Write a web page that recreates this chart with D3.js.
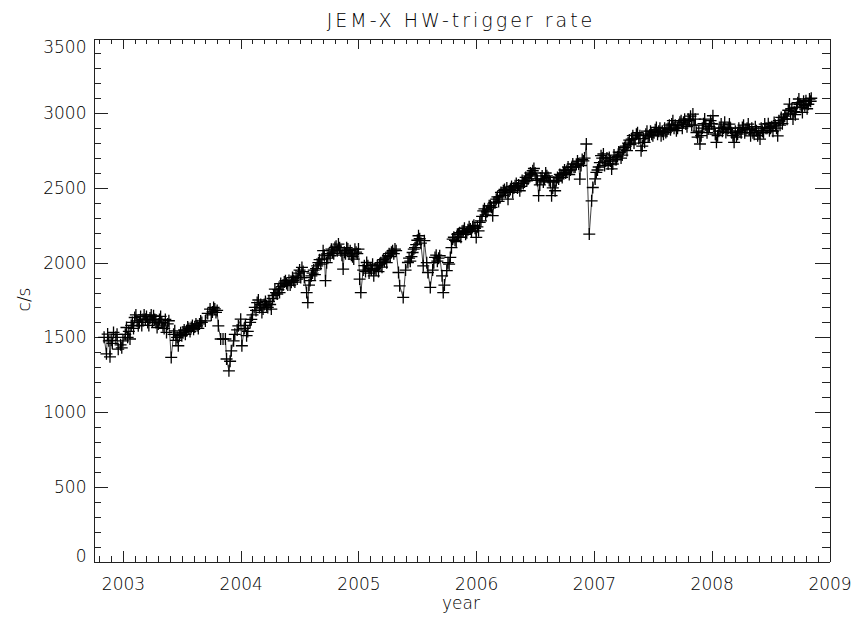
<!DOCTYPE html>
<html>
<head>
<meta charset="utf-8">
<script src="https://cdn.jsdelivr.net/npm/d3@7"></script>
<style>
  body { margin: 0; background: #fff; }
  text { font-family: "DejaVu Sans", sans-serif; font-weight: 200; fill: #000; }
  .axis path, .axis line { stroke: #222; shape-rendering: crispEdges; }
  .axis text { font-size: 17px; font-family: "DejaVu Sans", sans-serif; font-weight: 200; fill: #000; }
</style>
</head>
<body>
<div id="container"></div>
<script>
    // decimal year of each point and the JEM-X hardware trigger rate (c/s)
    const epoch = [
      2002.84, 2002.86, 2002.87, 2002.88, 2002.89, 2002.90, 2002.92, 2002.94, 2002.96, 2002.98,
      2003.00, 2003.02, 2003.03, 2003.05, 2003.06, 2003.08, 2003.10, 2003.12, 2003.13, 2003.15,
      2003.17, 2003.19, 2003.21, 2003.23, 2003.25, 2003.26, 2003.28, 2003.29, 2003.31, 2003.33,
      2003.34, 2003.36, 2003.37, 2003.39, 2003.41, 2003.43, 2003.44, 2003.46, 2003.47, 2003.49,
      2003.50, 2003.52, 2003.54, 2003.56, 2003.58, 2003.60, 2003.63, 2003.65, 2003.67, 2003.70,
      2003.72, 2003.74, 2003.76, 2003.77, 2003.79, 2003.80, 2003.81, 2003.83, 2003.85, 2003.87,
      2003.88, 2003.90, 2003.91, 2003.92, 2003.94, 2003.95, 2003.97, 2003.98, 2004.00, 2004.01,
      2004.03, 2004.05, 2004.08, 2004.10, 2004.14, 2004.16, 2004.18, 2004.20, 2004.22, 2004.24,
      2004.26, 2004.27, 2004.29, 2004.31, 2004.33, 2004.35, 2004.38, 2004.40, 2004.43, 2004.45,
      2004.48, 2004.49, 2004.52, 2004.54, 2004.56, 2004.57, 2004.58, 2004.60, 2004.62, 2004.65,
      2004.66, 2004.69, 2004.70, 2004.72, 2004.73, 2004.76, 2004.78, 2004.80, 2004.83, 2004.85,
      2004.87, 2004.89, 2004.91, 2004.94, 2004.96, 2004.98, 2005.00, 2005.01, 2005.02, 2005.04,
      2005.07, 2005.10, 2005.13, 2005.15, 2005.18, 2005.22, 2005.25, 2005.28, 2005.31, 2005.34,
      2005.35, 2005.38, 2005.40, 2005.42, 2005.45, 2005.46, 2005.49, 2005.51, 2005.53, 2005.55,
      2005.56, 2005.58, 2005.59, 2005.61, 2005.63, 2005.65, 2005.67, 2005.69, 2005.71, 2005.72,
      2005.73, 2005.75, 2005.78, 2005.80, 2005.83, 2005.85, 2005.87, 2005.89, 2005.92, 2005.95,
      2005.97, 2006.00, 2006.02, 2006.03, 2006.04, 2006.06, 2006.08, 2006.10, 2006.12, 2006.14,
      2006.16, 2006.17, 2006.20, 2006.23, 2006.25, 2006.27, 2006.29, 2006.33, 2006.35, 2006.37,
      2006.40, 2006.43, 2006.45, 2006.48, 2006.51, 2006.53, 2006.54, 2006.55, 2006.57, 2006.60,
      2006.62, 2006.64, 2006.67, 2006.68, 2006.70, 2006.72, 2006.74, 2006.77, 2006.79, 2006.81,
      2006.83, 2006.85, 2006.88, 2006.89, 2006.91, 2006.92, 2006.935, 2006.96, 2006.98, 2006.99,
      2007.01, 2007.02, 2007.04, 2007.05, 2007.06, 2007.08, 2007.10, 2007.12, 2007.13, 2007.15,
      2007.18, 2007.20, 2007.22, 2007.24, 2007.26, 2007.29, 2007.32, 2007.34, 2007.36, 2007.38,
      2007.40, 2007.41, 2007.43, 2007.46, 2007.49, 2007.51, 2007.53, 2007.55, 2007.57, 2007.59,
      2007.61, 2007.63, 2007.66, 2007.68, 2007.70, 2007.72, 2007.74, 2007.76, 2007.78, 2007.80,
      2007.82, 2007.84, 2007.85, 2007.87, 2007.88, 2007.90, 2007.92, 2007.94, 2007.95, 2007.97,
      2007.99, 2008.01, 2008.02, 2008.04, 2008.06, 2008.08, 2008.10, 2008.12, 2008.14, 2008.15,
      2008.17, 2008.19, 2008.21, 2008.22, 2008.24, 2008.26, 2008.29, 2008.31, 2008.32, 2008.33,
      2008.35, 2008.38, 2008.39, 2008.41, 2008.43, 2008.45, 2008.47, 2008.49, 2008.51, 2008.53,
      2008.55, 2008.56, 2008.58, 2008.59, 2008.61, 2008.63, 2008.65, 2008.66, 2008.67, 2008.69,
      2008.70, 2008.72, 2008.73, 2008.74, 2008.76, 2008.77, 2008.79, 2008.80, 2008.82, 2008.83,
      2008.84
    ];

    const rate = [
      1500, 1390, 1522, 1477, 1370, 1480, 1533, 1500, 1421, 1450,
      1477, 1520, 1566, 1540, 1489, 1600, 1633, 1610, 1577, 1640,
      1620, 1622, 1600, 1630, 1610, 1644, 1600, 1566, 1620, 1600,
      1577, 1620, 1533, 1611, 1366, 1520, 1544, 1500, 1444, 1530,
      1511, 1550, 1544, 1560, 1566, 1555, 1577, 1590, 1600, 1610,
      1660, 1689, 1670, 1700, 1667, 1680, 1577, 1489, 1489, 1489,
      1355, 1276, 1340, 1410, 1477, 1520, 1550, 1577, 1622, 1444,
      1560, 1511, 1600, 1650, 1733, 1700, 1667, 1720, 1711, 1740,
      1689, 1760, 1823, 1790, 1800, 1840, 1879, 1850, 1868, 1880,
      1890, 1930, 1968, 1900, 1800, 1733, 1850, 1912, 1950, 1979,
      2000, 2024, 2080, 1879, 2000, 2046, 2070, 2102, 2124, 2080,
      1957, 2060, 2091, 2050, 2024, 2070, 2091, 1890, 1800, 1950,
      2001, 1960, 1912, 1950, 1990, 2010, 2046, 2070, 2091, 1934,
      1845, 1767, 1950, 2001, 2040, 2068, 2120, 2180, 2130, 1979,
      2147, 2000, 1934, 1834, 1950, 2035, 2010, 2046, 1912, 1800,
      1850, 1946, 2035, 2158, 2140, 2191, 2170, 2213, 2200, 2225,
      2240, 2169, 2213, 2269, 2280, 2347, 2320, 2358, 2380, 2314,
      2400, 2425, 2440, 2481, 2470, 2425, 2490, 2515, 2500, 2481,
      2530, 2548, 2580, 2615, 2560, 2448, 2520, 2559, 2540, 2581,
      2550, 2448, 2481, 2548, 2560, 2581, 2600, 2615, 2590, 2637,
      2640, 2659, 2559, 2650, 2681, 2700, 2794, 2191, 2414, 2503,
      2560, 2604, 2640, 2670, 2716, 2727, 2680, 2660, 2704, 2627,
      2690, 2710, 2737, 2720, 2771, 2800, 2827, 2800, 2860, 2830,
      2749, 2780, 2805, 2840, 2860, 2870, 2905, 2880, 2849, 2860,
      2871, 2900, 2927, 2900, 2883, 2920, 2950, 2940, 2927, 2960,
      2980, 2994, 2920, 2871, 2840, 2794, 2900, 2961, 2920, 2894,
      2950, 2983, 2900, 2805, 2880, 2927, 2900, 2871, 2900, 2927,
      2870, 2805, 2840, 2860, 2880, 2905, 2890, 2927, 2890, 2849,
      2870, 2883, 2850, 2827, 2880, 2927, 2900, 2883, 2910, 2938,
      2900, 2849, 2920, 2972, 2960, 2994, 3020, 3061, 3000, 2961,
      3010, 3039, 3070, 3095, 3040, 3005, 3050, 3084, 3060, 3095,
      3080
    ];

    // the in-between pointings that fill the band
    const epochFill = [
      2002.91, 2002.95, 2002.99, 2003.04, 2003.07, 2003.09, 2003.11, 2003.14, 2003.16, 2003.18,
      2003.20, 2003.22, 2003.24, 2003.27, 2003.30, 2003.32, 2003.35, 2003.38, 2003.45, 2003.48,
      2003.51, 2003.53, 2003.55, 2003.57, 2003.59, 2003.61, 2003.62, 2003.64, 2003.66, 2003.75,
      2003.78,
      2004.04, 2004.06, 2004.09, 2004.12, 2004.13, 2004.15, 2004.17, 2004.19, 2004.21, 2004.23,
      2004.25, 2004.28, 2004.30, 2004.32, 2004.34, 2004.36, 2004.37, 2004.39, 2004.41, 2004.42,
      2004.44, 2004.46, 2004.47, 2004.50, 2004.51, 2004.53, 2004.59, 2004.61, 2004.63, 2004.64,
      2004.67, 2004.68, 2004.71, 2004.74, 2004.75, 2004.77, 2004.79, 2004.81, 2004.82, 2004.84,
      2004.86, 2004.88, 2004.90, 2004.92, 2004.93, 2004.95, 2004.97, 2004.99,
      2005.05, 2005.06, 2005.08, 2005.09, 2005.11, 2005.12, 2005.14, 2005.16, 2005.17, 2005.19,
      2005.20, 2005.21, 2005.23, 2005.24, 2005.26, 2005.27, 2005.29, 2005.30, 2005.32, 2005.43,
      2005.44, 2005.47, 2005.48, 2005.50, 2005.52, 2005.64, 2005.66, 2005.68, 2005.76, 2005.77,
      2005.79, 2005.81, 2005.82, 2005.84, 2005.86, 2005.88, 2005.90, 2005.91, 2005.93, 2005.94,
      2005.96, 2005.98, 2005.99,
      2006.01, 2006.05, 2006.07, 2006.09, 2006.11, 2006.13, 2006.15, 2006.18, 2006.19, 2006.21,
      2006.22, 2006.24, 2006.26, 2006.28, 2006.30, 2006.31, 2006.32, 2006.34, 2006.36, 2006.38,
      2006.39, 2006.41, 2006.42, 2006.44, 2006.46, 2006.47, 2006.49, 2006.50, 2006.52, 2006.56,
      2006.58, 2006.59, 2006.61, 2006.63, 2006.65, 2006.66, 2006.69, 2006.71, 2006.73, 2006.75,
      2006.76, 2006.78, 2006.80, 2006.82, 2006.84, 2006.86, 2006.87, 2006.90,
      2007.03, 2007.07, 2007.09, 2007.11, 2007.14, 2007.16, 2007.17, 2007.19, 2007.21, 2007.23,
      2007.25, 2007.27, 2007.28, 2007.30, 2007.31, 2007.33, 2007.35, 2007.37, 2007.39, 2007.42,
      2007.44, 2007.45, 2007.47, 2007.48, 2007.50, 2007.52, 2007.54, 2007.56, 2007.58, 2007.60,
      2007.62, 2007.64, 2007.65, 2007.67, 2007.69, 2007.71, 2007.73, 2007.75, 2007.77, 2007.79,
      2007.81, 2007.83, 2007.86, 2007.89, 2007.91, 2007.93, 2007.96, 2007.98,
      2008.00, 2008.03, 2008.05, 2008.07, 2008.09, 2008.11, 2008.13, 2008.16, 2008.18, 2008.20,
      2008.23, 2008.25, 2008.27, 2008.28, 2008.30, 2008.34, 2008.36, 2008.37, 2008.40, 2008.42,
      2008.44, 2008.46, 2008.48, 2008.50, 2008.52, 2008.54, 2008.57, 2008.60, 2008.62, 2008.64,
      2008.68, 2008.71, 2008.75, 2008.78, 2008.81, 2008.845
    ];

    const rateFill = [
      1460, 1520, 1430, 1500, 1580, 1560, 1650, 1600, 1580, 1650,
      1640, 1580, 1650, 1620, 1590, 1640, 1560, 1590, 1480, 1510,
      1530, 1520, 1570, 1540, 1580, 1570, 1590, 1560, 1610, 1650,
      1690,
      1580, 1540, 1620, 1700, 1680, 1750, 1720, 1690, 1740, 1700,
      1720, 1780, 1800, 1820, 1860, 1850, 1870, 1860, 1880, 1850,
      1900, 1870, 1910, 1950, 1900, 1940, 1880, 1930, 1920, 1960,
      2020, 1990, 2050, 2030, 2060, 2090, 2060, 2110, 2080, 2100,
      2050, 2070, 2100, 2060, 2080, 2040, 2090, 2060,
      1980, 1940, 1980, 1930, 1950, 1990, 1960, 1980, 1940, 2000,
      1970, 2020, 2030, 2000, 2060, 2040, 2080, 2060, 2080, 2030,
      2010, 2090, 2100, 2150, 2160, 2000, 2050, 2030, 2000, 1990,
      2100, 2170, 2150, 2190, 2200, 2210, 2230, 2190, 2220, 2240,
      2210, 2250, 2230,
      2240, 2310, 2360, 2340, 2380, 2370, 2400, 2440, 2410, 2470,
      2450, 2490, 2500, 2480, 2510, 2470, 2500, 2530, 2520, 2510,
      2550, 2540, 2570, 2560, 2600, 2590, 2630, 2600, 2550, 2580,
      2560, 2600, 2570, 2540, 2500, 2540, 2570, 2590, 2570, 2620,
      2600, 2640, 2620, 2660, 2640, 2680, 2660, 2690,
      2620, 2700, 2650, 2700, 2680, 2660, 2720, 2690, 2740, 2700,
      2760, 2780, 2750, 2820, 2790, 2850, 2830, 2870, 2850, 2830,
      2860, 2880, 2850, 2880, 2850, 2890, 2860, 2900, 2880, 2900,
      2880, 2920, 2890, 2950, 2920, 2900, 2940, 2900, 2960, 2910,
      2950, 2920, 2960, 2880, 2850, 2930, 2870, 2910,
      2930, 2860, 2850, 2900, 2880, 2940, 2890, 2900, 2850, 2880,
      2900, 2870, 2920, 2870, 2900, 2900, 2860, 2910, 2870, 2900,
      2870, 2900, 2930, 2900, 2880, 2920, 2950, 2930, 2980, 2960,
      3030, 2990, 3060, 3080, 3030, 3100
    ];

    const yearTicks = [2003, 2004, 2005, 2006, 2007, 2008, 2009];
    const rateTicks = [0, 500, 1000, 1500, 2000, 2500, 3000, 3500];

    const data = epoch.map((t, i) => ({ t: t, v: rate[i] }))
      .concat(epochFill.map((t, i) => ({ t: t, v: rateFill[i] })))
      .sort((a, b) => a.t - b.t);

    const W = 854, H = 617;
    const margin = { top: 38, right: 25, bottom: 56, left: 93 };
    const width = W - margin.left - margin.right;
    const height = H - margin.top - margin.bottom;

    const svg = d3.select('#container').append('svg')
      .attr('width', W)
      .attr('height', H);

    const chart = svg.append('g')
      .attr('transform', `translate(${margin.left + 0.5}, ${margin.top + 0.5})`);

    const xScale = d3.scaleLinear()
      .domain([2002.75, 2009])
      .range([0, width]);

    const yScale = d3.scaleLinear()
      .domain([0, 3500])
      .range([height, 0]);

    // IDL style: ticks point inward, major 2% of the plot size, minors half
    const xMajor = 0.02 * height, yMajor = 0.02 * width;
    const xMinorVals = d3.range(28, 91).map(d => d / 10 + 2000).filter(d => !yearTicks.includes(Math.round(d * 10) / 10));
    const yMinorVals = d3.range(0, 3501, 100).filter(d => d % 500 !== 0);

    // bottom
    chart.append('g')
      .attr('class', 'axis')
      .attr('transform', `translate(0,${height})`)
      .call(d3.axisBottom(xScale).tickValues(yearTicks).tickSize(-xMajor).tickSizeOuter(0)
        .tickPadding(16).tickFormat(d3.format('d')));
    chart.append('g')
      .attr('class', 'axis')
      .attr('transform', `translate(0,${height})`)
      .call(d3.axisBottom(xScale).tickValues(xMinorVals).tickSize(-xMajor / 2).tickSizeOuter(0).tickFormat(''));

    // top
    chart.append('g')
      .attr('class', 'axis')
      .call(d3.axisTop(xScale).tickValues(yearTicks).tickSize(-xMajor).tickSizeOuter(0).tickFormat(''));
    chart.append('g')
      .attr('class', 'axis')
      .call(d3.axisTop(xScale).tickValues(xMinorVals).tickSize(-xMajor / 2).tickSizeOuter(0).tickFormat(''));

    // left
    const yAxisG = chart.append('g')
      .attr('class', 'axis')
      .call(d3.axisLeft(yScale).tickValues(rateTicks).tickSize(-yMajor).tickSizeOuter(0)
        .tickPadding(7).tickFormat(d3.format('d')));
    chart.append('g')
      .attr('class', 'axis')
      .call(d3.axisLeft(yScale).tickValues(yMinorVals).tickSize(-yMajor / 2).tickSizeOuter(0).tickFormat(''));

    // end labels are kept inside the frame
    yAxisG.selectAll('.tick text')
      .attr('dy', d => d === 3500 ? '0.8em' : d === 0 ? '0' : '0.32em');

    // right
    chart.append('g')
      .attr('class', 'axis')
      .attr('transform', `translate(${width},0)`)
      .call(d3.axisRight(yScale).tickValues(rateTicks).tickSize(-yMajor).tickSizeOuter(0).tickFormat(''));
    chart.append('g')
      .attr('class', 'axis')
      .attr('transform', `translate(${width},0)`)
      .call(d3.axisRight(yScale).tickValues(yMinorVals).tickSize(-yMajor / 2).tickSizeOuter(0).tickFormat(''));

    // connecting line
    const line = d3.line()
      .x(d => xScale(d.t))
      .y(d => yScale(d.v));

    chart.append('path')
      .datum(data)
      .attr('fill', 'none')
      .attr('stroke', '#444')
      .attr('stroke-width', 1)
      .attr('d', line);

    // plus symbols
    const s = 6;
    chart.append('g')
      .selectAll('path')
      .data(data)
      .enter()
      .append('path')
      .attr('transform', d => `translate(${xScale(d.t)},${yScale(d.v)})`)
      .attr('d', `M${-s},0H${s}M0,${-s}V${s}`)
      .attr('stroke', '#000')
      .attr('stroke-width', 1.3)
      .attr('fill', 'none');

    svg.append('text')
      .attr('x', margin.left + width / 2)
      .attr('y', 27)
      .attr('text-anchor', 'middle')
      .style('font-size', '19px')
      .style('letter-spacing', '3px')
      .text('JEM-X HW-trigger rate');

    svg.append('text')
      .attr('x', margin.left + width / 2)
      .attr('y', 609)
      .attr('text-anchor', 'middle')
      .style('font-size', '17px')
      .text('year');

    svg.append('text')
      .attr('transform', `translate(30, ${margin.top + height / 2}) rotate(-90)`)
      .attr('text-anchor', 'middle')
      .style('font-size', '17px')
      .text('c/s');
</script>
</body>
</html>
